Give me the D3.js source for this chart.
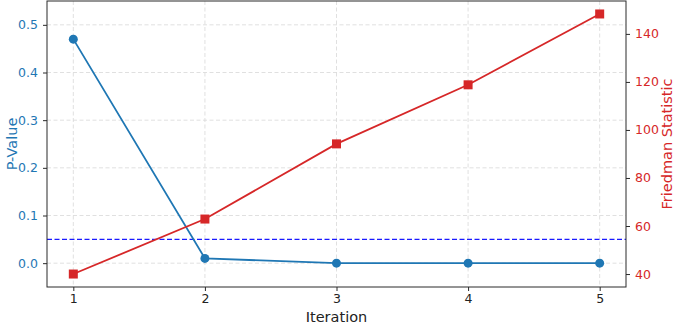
<!DOCTYPE html>
<html>
<head>
    <style>
        body { margin: 0; background: white; }
        text { font-family: "DejaVu Sans", sans-serif; }
        .grid line { stroke: #d8d8d8; stroke-dasharray: 4,2.5; stroke-width: 0.8; }
    </style>
    <script src="https://d3js.org/d3.v7.min.js"></script>
</head>
<body>
<svg id="chart" width="675" height="324"></svg>
<script>
    // data
    var iterations = [1, 2, 3, 4, 5];
    var pValues = [0.47, 0.01, 0.0, 0.0, 0.0];
    var friedman = [40.0, 62.9, 94.2, 118.8, 148.3];
    var pTicks = [0.0, 0.1, 0.2, 0.3, 0.4, 0.5];
    var fTicks = [40, 60, 80, 100, 120, 140];
    var threshold = 0.05;

    var blue = "#1f77b4", red = "#d62728";
    var margin = {top: 1, right: 49, bottom: 37, left: 47},
        width = 675 - margin.left - margin.right,
        height = 324 - margin.top - margin.bottom;

    var svg = d3.select("#chart");
    var g = svg.append("g").attr("transform", "translate(" + margin.left + "," + margin.top + ")");

    var x = d3.scaleLinear().domain([0.8, 5.2]).range([0, width]);
    var yL = d3.scaleLinear().domain([-0.05, 0.55]).range([height, 0]);
    var yR = d3.scaleLinear().domain([34.6, 153.7]).range([height, 0]);

    // grid
    g.append("g").attr("class", "grid")
        .selectAll("line").data(iterations).join("line")
        .attr("x1", d => x(d)).attr("x2", d => x(d))
        .attr("y1", 0).attr("y2", height);
    g.append("g").attr("class", "grid")
        .selectAll("line").data(pTicks).join("line")
        .attr("x1", 0).attr("x2", width)
        .attr("y1", d => yL(d)).attr("y2", d => yL(d));

    // threshold line
    g.append("line")
        .attr("x1", 0).attr("x2", width)
        .attr("y1", yL(threshold)).attr("y2", yL(threshold))
        .attr("stroke", "#1a1aff").attr("stroke-width", 1.3)
        .attr("stroke-dasharray", "5,2.5");

    // p-value series
    var pData = iterations.map((d, i) => [d, pValues[i]]);
    g.append("path").datum(pData)
        .attr("fill", "none").attr("stroke", blue).attr("stroke-width", 1.8)
        .attr("d", d3.line().x(d => x(d[0])).y(d => yL(d[1])));
    g.selectAll(".pdot").data(pData).join("circle")
        .attr("class", "pdot")
        .attr("cx", d => x(d[0])).attr("cy", d => yL(d[1]))
        .attr("r", 4.5).attr("fill", blue);

    // friedman series
    var fData = iterations.map((d, i) => [d, friedman[i]]);
    g.append("path").datum(fData)
        .attr("fill", "none").attr("stroke", red).attr("stroke-width", 1.8)
        .attr("d", d3.line().x(d => x(d[0])).y(d => yR(d[1])));
    g.selectAll(".fsq").data(fData).join("rect")
        .attr("class", "fsq")
        .attr("x", d => x(d[0]) - 4.5).attr("y", d => yR(d[1]) - 4.5)
        .attr("width", 9).attr("height", 9).attr("fill", red);

    // frame
    g.append("rect").attr("width", width).attr("height", height)
        .attr("fill", "none").attr("stroke", "#2a2a2a").attr("stroke-width", 1);

    // axes
    var xAxis = g.append("g").attr("transform", "translate(0," + height + ")")
        .call(d3.axisBottom(x).tickValues(iterations).tickFormat(d3.format("d")).tickSize(4).tickPadding(3.5));
    var lAxis = g.append("g")
        .call(d3.axisLeft(yL).tickValues(pTicks).tickFormat(d3.format(".1f")).tickSize(4).tickPadding(5));
    var rAxis = g.append("g").attr("transform", "translate(" + width + ",0)")
        .call(d3.axisRight(yR).tickValues(fTicks).tickFormat(d3.format("d")).tickSize(4).tickPadding(5));

    [xAxis, lAxis, rAxis].forEach(a => {
        a.select(".domain").remove();
        a.selectAll("text").style("font-size", "12.5px").attr("font-family", null);
        a.selectAll("line").attr("stroke", "#2a2a2a");
    });
    xAxis.selectAll("text").attr("fill", "#222");
    lAxis.selectAll("text").attr("fill", blue);
    rAxis.selectAll("text").attr("fill", red);

    // labels
    svg.append("text").attr("x", margin.left + width / 2).attr("y", 321.5)
        .attr("text-anchor", "middle").style("font-size", "14.5px").attr("fill", "#222")
        .text("Iteration");
    svg.append("text").attr("transform", "translate(17," + (margin.top + height / 2) + ") rotate(-90)")
        .attr("text-anchor", "middle").style("font-size", "14.5px").attr("fill", blue)
        .text("P-Value");
    svg.append("text").attr("transform", "translate(672," + (margin.top + height / 2) + ") rotate(-90)")
        .attr("text-anchor", "middle").style("font-size", "14.5px").attr("fill", red)
        .text("Friedman Statistic");
</script>
</body>
</html>
